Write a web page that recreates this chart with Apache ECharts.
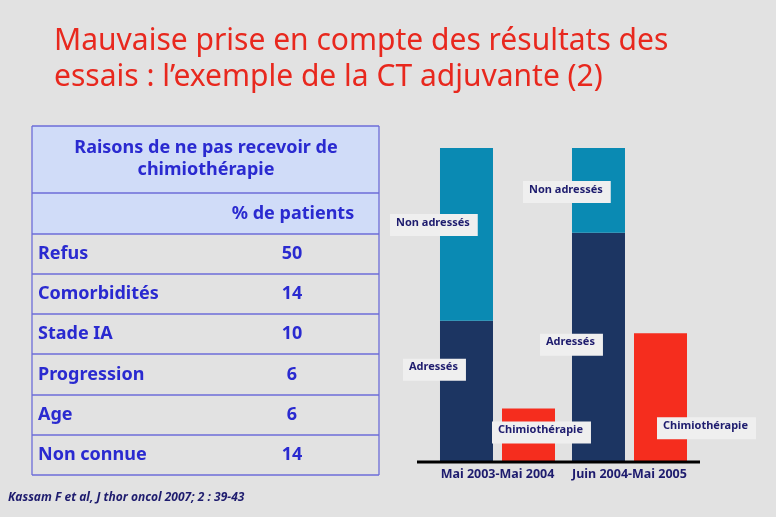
<!DOCTYPE html>
<html><head><meta charset="utf-8">
<script src="https://cdn.jsdelivr.net/npm/echarts@6/dist/echarts.min.js"></script>
<style>html,body{margin:0;padding:0;background:#e2e2e2;}#c{width:776px;height:517px;}</style>
</head><body><div id="c"></div>
<script>
// ---- data ----
const titleLines = ["Mauvaise prise en compte des résultats des", "essais : l’exemple de la CT adjuvante (2)"];
const tableHeader = ["Raisons de ne pas recevoir de", "chimiothérapie"];
const tableColHeader = "% de patients";
const reasons = ["Refus", "Comorbidités", "Stade IA", "Progression", "Age", "Non connue"];
const reasonPct = [50, 14, 10, 6, 6, 14];
const periods = ["Mai 2003-Mai 2004", "Juin 2004-Mai 2005"];
const adresses = [45, 73];
const nonAdresses = [55, 27];
const chimiotherapie = [17, 41];
const citation = "Kassam F et al, J thor oncol 2007; 2 : 39-43";

// ---- styles ----
const FONT = "'Noto Sans', 'DejaVu Sans', sans-serif";
const navyText = '#1e1c6e';
const tblText = '#2a2ad0';
const border = '#6c6cd8';
const labelBox = {
  show: true, formatter: '{a}', color: navyText, fontFamily: FONT, fontWeight: 'bold',
  fontSize: 11, backgroundColor: '#efefef', align: 'left', verticalAlign: 'top',
  padding: [3, 8, 8, 6]
};
const labelPos = {
  'Adressés': [[-37, 38], [-32, 101]],
  'Non adressés': [[-50, 66], [-49, 33]],
  'Chimiothérapie': [[-10, 13], [23, 84]]
};
function items(name, arr) {
  return arr.map((v, i) => ({ value: v, label: Object.assign({}, labelBox, { position: labelPos[name][i] }) }));
}

// ---- table graphics ----
const g = [];
const tX = 32, tW = 347;
const rowTops = [126, 193, 234, 274, 314, 354, 395, 435];
const tBottom = 475;
g.push({ type: 'rect', shape: { x: tX, y: rowTops[0], width: tW, height: rowTops[2] - rowTops[0] }, style: { fill: '#d0dcf8' } });
const lines = rowTops.concat([tBottom]);
lines.forEach(y => g.push({ type: 'line', shape: { x1: tX, y1: y, x2: tX + tW, y2: y }, style: { stroke: border, lineWidth: 1.3 } }));
g.push({ type: 'line', shape: { x1: tX, y1: rowTops[0], x2: tX, y2: tBottom }, style: { stroke: border, lineWidth: 1.3 } });
g.push({ type: 'line', shape: { x1: tX + tW, y1: rowTops[0], x2: tX + tW, y2: tBottom }, style: { stroke: border, lineWidth: 1.3 } });
const TF = `bold 18px ${FONT}`;
tableHeader.forEach((t, i) => g.push({ type: 'text', x: 206, y: 148 + i * 22, style: { text: t, fill: tblText, font: TF, textAlign: 'center', textVerticalAlign: 'middle' } }));
g.push({ type: 'text', x: 293, y: 214, style: { text: tableColHeader, fill: tblText, font: TF, textAlign: 'center', textVerticalAlign: 'middle' } });
reasons.forEach((r, i) => {
  const yc = (rowTops[i + 2] + (rowTops[i + 3] || tBottom)) / 2;
  g.push({ type: 'text', x: 38, y: yc, style: { text: r, fill: tblText, font: TF, textAlign: 'left', textVerticalAlign: 'middle' } });
  g.push({ type: 'text', x: 292, y: yc, style: { text: String(reasonPct[i]), fill: tblText, font: TF, textAlign: 'center', textVerticalAlign: 'middle' } });
});
titleLines.forEach((t, i) => g.push({ type: 'text', x: 54, y: 41 + i * 36, style: { text: t, fill: '#e8281e', font: `30px ${FONT}`, textAlign: 'left', textVerticalAlign: 'middle' } }));
g.push({ type: 'text', x: 8, y: 498, style: { text: citation, fill: navyText, font: `italic bold 12px ${FONT}`, textAlign: 'left', textVerticalAlign: 'middle' } });
// baseline
g.push({ type: 'line', z: 10, shape: { x1: 417, y1: 462, x2: 700, y2: 462 }, style: { stroke: '#000', lineWidth: 3 } });

const chart = echarts.init(document.getElementById('c'));
chart.setOption({
  backgroundColor: '#e2e2e2',
  animation: false,
  graphic: g,
  grid: { left: 431.5, right: 80.5, top: 148, bottom: 55 },
  xAxis: {
    type: 'category', data: periods,
    axisLine: { show: false }, axisTick: { show: false },
    axisLabel: { interval: 0, hideOverlap: false, color: navyText, fontFamily: FONT, fontWeight: 'bold', fontSize: 12.5, margin: 6 }
  },
  yAxis: { type: 'value', min: 0, max: 100, show: false, splitLine: { show: false } },
  series: [
    { name: 'Adressés', type: 'bar', stack: 'a', barWidth: 53, barGap: '17%', itemStyle: { color: '#1c3562' }, data: items('Adressés', adresses) },
    { name: 'Non adressés', type: 'bar', stack: 'a', barWidth: 53, barGap: '17%', itemStyle: { color: '#0a8ab3' }, data: items('Non adressés', nonAdresses) },
    { name: 'Chimiothérapie', type: 'bar', barWidth: 53, barGap: '17%', itemStyle: { color: '#f52d1e' }, data: items('Chimiothérapie', chimiotherapie) }
  ]
});
</script>
</body></html>
